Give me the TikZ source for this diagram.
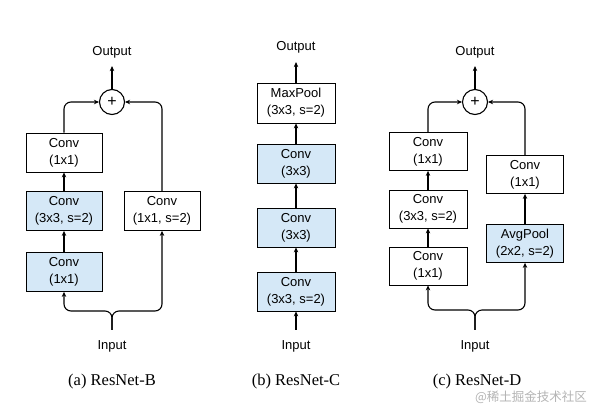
\documentclass[tikz,border=0pt]{standalone}
\usepackage{fontspec}
\setmainfont{Liberation Sans}
\newfontfamily\capfont{Liberation Serif}
\newfontfamily\cjkfont{Noto Sans CJK SC}
\usetikzlibrary{arrows.meta}
\definecolor{boxblue}{HTML}{D5E8F7}
\definecolor{wmgray}{HTML}{B4B4B4}
\begin{document}
\begin{tikzpicture}[x=1pt,y=-1pt,
  blk/.style={draw=black, line width=0.8pt, minimum width=76pt, minimum height=39pt, inner sep=0pt, align=center, font=\fontsize{13}{17}\selectfont, fill=white},
  bluebk/.style={blk, fill=boxblue},
  lbl/.style={inner sep=0pt, font=\fontsize{13}{15}\selectfont},
  arr/.style={-{Stealth[length=5pt,width=4.5pt]}, line width=1.1pt},
  sumnode/.style={circle, draw, line width=1.1pt, minimum size=25pt, inner sep=0pt, font=\fontsize{16}{16}\selectfont, fill=white},
  captxt/.style={inner sep=0pt, font=\capfont\fontsize{16.5}{18}\selectfont},
  rc/.style={rounded corners=7pt}
]
\useasboundingbox[fill=white] (0,0) rectangle (593,407);

% ---------- ResNet-B ----------
\node[bluebk] (b3) at (64,272) {Conv\\(1x1)};
\node[bluebk] (b2) at (64,211) {Conv\\(3x3, s=2)};
\node[blk] (b1) at (64,152.5) {Conv\\(1x1)};
\node[blk] (br) at (162,211) {Conv\\(1x1, s=2)};
\node[sumnode] (pb) at (112,102) {+};
\node[lbl] (ob) at (112,52) {Output};
\node[lbl] (ib) at (112,346) {Input};
\coordinate (sb) at (112,311);
\draw[arr] (b3.north) -- (b2.south);
\draw[arr] (b2.north) -- (b1.south);
\draw[arr, rc] (b1.north) |- (pb.west);
\draw[arr, rc] (br.north) |- (pb.east);
\draw[arr, shorten >=8pt] (pb.north) -- (ob.south);
\draw[arr, rc, shorten <=10pt] (ib.north) -- (sb) -| (b3.south);
\draw[arr, rc, shorten <=10pt] (ib.north) -- (sb) -| (br.south);

% ---------- ResNet-C ----------
\node[blk, minimum width=78pt, minimum height=40pt] (cm) at (296,103) {MaxPool\\(3x3, s=2)};
\node[bluebk, minimum width=78pt] (c1) at (296,163.5) {Conv\\(3x3)};
\node[bluebk, minimum width=78pt] (c2) at (296,227.5) {Conv\\(3x3)};
\node[bluebk, minimum width=78pt] (c3) at (296,291.5) {Conv\\(3x3, s=2)};
\node[lbl] (oc) at (296,47) {Output};
\node[lbl] (ic) at (296,346) {Input};
\draw[arr, shorten <=10pt] (ic.north) -- (c3.south);
\draw[arr] (c3.north) -- (c2.south);
\draw[arr] (c2.north) -- (c1.south);
\draw[arr] (c1.north) -- (cm.south);
\draw[arr, shorten >=9pt] (cm.north) -- (oc.south);

% ---------- ResNet-D ----------
\node[blk, minimum width=78pt, minimum height=38pt] (d3) at (428,266) {Conv\\(1x1)};
\node[blk, minimum width=78pt, minimum height=38pt] (d2) at (428,209) {Conv\\(3x3, s=2)};
\node[blk, minimum width=78pt, minimum height=38pt] (d1) at (428,151.5) {Conv\\(1x1)};
\node[bluebk, minimum width=77pt, minimum height=38pt] (da) at (525,243.5) {AvgPool\\(2x2, s=2)};
\node[blk, minimum width=77pt, minimum height=38pt] (dc) at (525,174.5) {Conv\\(1x1)};
\node[sumnode] (pd) at (475,102) {+};
\node[lbl] (od) at (475,52) {Output};
\node[lbl] (id) at (475,346) {Input};
\coordinate (sd) at (475,310);
\draw[arr] (d3.north) -- (d2.south);
\draw[arr] (d2.north) -- (d1.south);
\draw[arr] (da.north) -- (dc.south);
\draw[arr, rc] (d1.north) |- (pd.west);
\draw[arr, rc] (dc.north) |- (pd.east);
\draw[arr, shorten >=8pt] (pd.north) -- (od.south);
\draw[arr, rc, shorten <=10pt] (id.north) -- (sd) -| (d3.south);
\draw[arr, rc, shorten <=10pt] (id.north) -- (sd) -| (da.south);

% ---------- captions ----------
\node[captxt] (capa) at (112,382) {(a) ResNet-B};
\node[captxt] (capb) at (296,382) {(b) ResNet-C};
\node[captxt] (capc) at (477,382) {(c) ResNet-D};
\node[inner sep=0pt, text=wmgray, font=\cjkfont\fontsize{12.5}{14}\selectfont] (wm) at (531,397) {@稀土掘金技术社区};
\end{tikzpicture}
\end{document}
